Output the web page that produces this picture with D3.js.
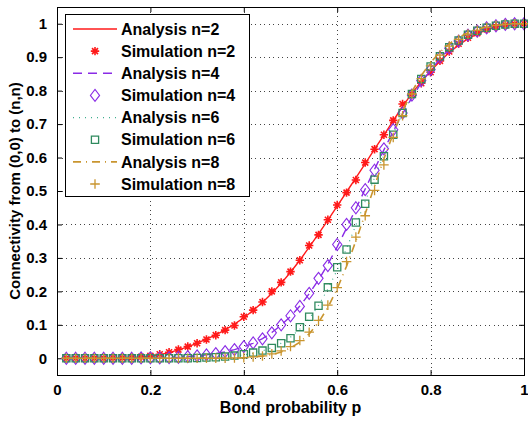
<!DOCTYPE html>
<html>
<head>
<meta charset="utf-8">
<script src="https://cdn.jsdelivr.net/npm/d3@7"></script>
<style>
  html, body { margin: 0; padding: 0; background: #fff; }
  svg { display: block; }
  text { font-family: "Liberation Sans", Arial, Helvetica, sans-serif; font-weight: bold; }
</style>
</head>
<body>
<svg id="chart" width="528" height="422"></svg>
<script>
// Bond probabilities at which connectivity was evaluated
const bondP = [0.02,0.04,0.06,0.08,0.10,0.12,0.14,0.16,0.18,0.20,
               0.22,0.24,0.26,0.28,0.30,0.32,0.34,0.36,0.38,0.40,
               0.42,0.44,0.46,0.48,0.50,0.52,0.54,0.56,0.58,0.60,
               0.62,0.64,0.66,0.68,0.70,0.72,0.74,0.76,0.78,0.80,
               0.82,0.84,0.86,0.88,0.90,0.92,0.94,0.96,0.98,1.00];

// Analytical connectivity, n = 2, 4, 6, 8
const anaN2 = [0,0,0,0,0,0.001,0.001,0.002,0.004,0.007,
               0.011,0.017,0.025,0.034,0.045,0.057,0.070,0.085,0.102,0.121,
               0.143,0.167,0.194,0.224,0.257,0.293,0.332,0.372,0.413,0.455,
               0.497,0.539,0.582,0.625,0.667,0.710,0.753,0.792,0.827,0.859,
               0.888,0.914,0.936,0.955,0.970,0.982,0.990,0.996,0.999,1];
const anaN4 = [0,0,0,0,0,0,0,0,0,0.001,
               0.001,0.002,0.003,0.005,0.007,0.010,0.014,0.019,0.026,0.034,
               0.045,0.059,0.077,0.099,0.125,0.156,0.193,0.234,0.281,0.333,
               0.389,0.447,0.506,0.565,0.623,0.678,0.731,0.779,0.823,0.861,
               0.895,0.924,0.947,0.965,0.978,0.988,0.994,0.998,1,1];
const anaN6 = [0,0,0,0,0,0,0,0,0,0,
               0,0,0,0,0.001,0.002,0.003,0.004,0.007,0.010,
               0.015,0.022,0.032,0.045,0.063,0.087,0.118,0.158,0.207,0.264,
               0.328,0.398,0.469,0.540,0.608,0.672,0.731,0.783,0.829,0.868,
               0.901,0.929,0.951,0.968,0.980,0.989,0.995,0.998,1,1];
const anaN8 = [0,0,0,0,0,0,0,0,0,0,
               0,0,0,0,0,0,0,0.001,0.001,0.002,
               0.004,0.006,0.011,0.019,0.031,0.048,0.073,0.107,0.152,0.208,
               0.275,0.351,0.432,0.515,0.596,0.671,0.739,0.797,0.845,0.884,
               0.915,0.940,0.959,0.973,0.983,0.990,0.995,0.998,1,1];

// Simulated connectivity, n = 2, 4, 6, 8
const simN2 = [0,0,0,0,0,0.001,0.001,0.002,0.004,0.007,
               0.012,0.018,0.026,0.035,0.045,0.056,0.069,0.084,0.098,0.124,
               0.144,0.168,0.200,0.227,0.259,0.293,0.337,0.369,0.414,0.458,
               0.495,0.533,0.585,0.625,0.668,0.711,0.760,0.790,0.822,0.855,
               0.889,0.917,0.940,0.958,0.972,0.983,0.991,0.996,0.999,1];
const simN4 = [0,0,0,0,0,0,0,0,0.001,0.001,
               0.001,0.002,0.003,0.005,0.007,0.010,0.014,0.020,0.026,0.035,
               0.046,0.058,0.076,0.100,0.127,0.155,0.194,0.239,0.277,0.340,
               0.400,0.450,0.504,0.562,0.626,0.683,0.733,0.787,0.830,0.863,
               0.900,0.927,0.948,0.966,0.978,0.988,0.994,0.998,1,1];
const simN6 = [0,0,0,0,0,0,0,0,0,0,
               0,0,0,0,0.001,0.002,0.003,0.005,0.008,0.012,
               0.017,0.023,0.031,0.045,0.060,0.093,0.124,0.157,0.212,0.272,
               0.325,0.406,0.462,0.534,0.604,0.668,0.733,0.790,0.835,0.872,
               0.903,0.930,0.950,0.967,0.979,0.988,0.994,0.998,1,1];
const simN8 = [0,0,0,0,0,0,0,0,0,0,
               0,0,0,0,0,0,0,0,0.001,0.002,
               0.004,0.007,0.013,0.022,0.035,0.053,0.078,0.113,0.159,0.211,
               0.289,0.362,0.426,0.502,0.578,0.660,0.725,0.790,0.836,0.874,
               0.906,0.933,0.953,0.969,0.980,0.989,0.995,0.998,1,1];

// Axis ticks
const xTicks = [0, 0.2, 0.4, 0.6, 0.8, 1];
const yTicks = [0, 0.1, 0.2, 0.3, 0.4, 0.5, 0.6, 0.7, 0.8, 0.9, 1];
const xTickLabels = ["0", "0.2", "0.4", "0.6", "0.8", "1"];
const yTickLabels = ["0", "0.1", "0.2", "0.3", "0.4", "0.5", "0.6", "0.7", "0.8", "0.9", "1"];

const legendLabels = ["Analysis n=2", "Simulation n=2", "Analysis n=4", "Simulation n=4",
                      "Analysis n=6", "Simulation n=6", "Analysis n=8", "Simulation n=8"];

// Styling for each series
const C_RED = "#ff1a1a", C_PUR = "#8a2be6", C_TEAL = "#3fae8e", C_GRN = "#2f8a5e", C_GOLD = "#c9952f";

const svg = d3.select("#chart");
const plot = { left: 57, right: 524, top: 7, bottom: 375 };

const x = d3.scaleLinear().domain([0, 1]).range([plot.left, plot.right]);
const y = d3.scaleLinear().domain([-0.05, 1.05]).range([plot.bottom, plot.top]);

// Plot background
svg.append("rect").attr("x", plot.left).attr("y", plot.top)
  .attr("width", plot.right - plot.left).attr("height", plot.bottom - plot.top)
  .attr("fill", "#fff");

// Dotted grid
const grid = svg.append("g").attr("stroke", "#444").attr("stroke-width", 1)
  .attr("stroke-dasharray", "1,3.5").attr("shape-rendering", "crispEdges");
xTicks.slice(1, -1).forEach(t => {
  grid.append("line").attr("x1", Math.round(x(t)) + 0.5).attr("x2", Math.round(x(t)) + 0.5)
    .attr("y1", plot.top).attr("y2", plot.bottom);
});
yTicks.forEach(t => {
  grid.append("line").attr("y1", Math.round(y(t)) + 0.5).attr("y2", Math.round(y(t)) + 0.5)
    .attr("x1", plot.left).attr("x2", plot.right);
});

// Axes with inward ticks on all four sides
const tickLen = 5;
const xAxisB = d3.axisBottom(x).tickValues(xTicks).tickSize(-tickLen).tickPadding(9)
  .tickFormat((d, i) => xTickLabels[i]);
const xAxisT = d3.axisTop(x).tickValues(xTicks).tickSize(-tickLen).tickFormat("");
const yAxisL = d3.axisLeft(y).tickValues(yTicks).tickSize(-tickLen).tickPadding(10)
  .tickFormat((d, i) => yTickLabels[i]);
const yAxisR = d3.axisRight(y).tickValues(yTicks).tickSize(-tickLen).tickFormat("");

function styleAxis(g) {
  g.select(".domain").remove();
  g.selectAll(".tick line").attr("stroke", "#000");
  g.selectAll(".tick text").attr("fill", "#000").attr("font-size", 15)
    .attr("font-family", "Liberation Sans, Arial, sans-serif").attr("font-weight", "bold");
}
svg.append("g").attr("transform", `translate(0,${plot.bottom})`).call(xAxisB).call(styleAxis);
svg.append("g").attr("transform", `translate(0,${plot.top})`).call(xAxisT).call(styleAxis);
svg.append("g").attr("transform", `translate(${plot.left},0)`).call(yAxisL).call(styleAxis);
svg.append("g").attr("transform", `translate(${plot.right},0)`).call(yAxisR).call(styleAxis);

// Series: analysis line followed by its simulation markers
const series = [
  { ana: anaN2, sim: simN2, lineColor: C_RED, dash: null, lw: 1.4, mark: "star", markColor: C_RED },
  { ana: anaN4, sim: simN4, lineColor: C_PUR, dash: "9,6", lw: 1.4, mark: "diamond", markColor: C_PUR },
  { ana: anaN6, sim: simN6, lineColor: C_TEAL, dash: "1,5", lw: 1.2, mark: "square", markColor: C_GRN },
  { ana: anaN8, sim: simN8, lineColor: C_GOLD, dash: "8,5,1,5", lw: 1.6, mark: "plus", markColor: C_GOLD }
];

const markerPath = {
  star: "M-4.2,0H4.2M0,-4.2V4.2M-3,-3L3,3M-3,3L3,-3",
  diamond: "M0,-6L4.6,0L0,6L-4.6,0Z",
  square: "M-3.6,-3.6H3.6V3.6H-3.6Z",
  plus: "M-4.8,0H4.8M0,-4.8V4.8"
};
const markerWidth = { star: 1.6, diamond: 1.1, square: 1.3, plus: 1.3 };

const lineGen = d3.line().x((d, i) => x(bondP[i])).y(d => y(d));
const dataLayer = svg.append("g");

series.forEach(s => {
  dataLayer.append("path").datum(s.ana)
    .attr("d", lineGen).attr("fill", "none")
    .attr("stroke", s.lineColor).attr("stroke-width", s.lw)
    .attr("stroke-dasharray", s.dash);
  dataLayer.append("g").selectAll("path").data(s.sim).join("path")
    .attr("transform", (d, i) => `translate(${x(bondP[i])},${y(d)})`)
    .attr("d", markerPath[s.mark]).attr("fill", "none")
    .attr("stroke", s.markColor).attr("stroke-width", markerWidth[s.mark]);
});

// Frame
svg.append("rect").attr("x", plot.left + 0.5).attr("y", plot.top + 0.5)
  .attr("width", plot.right - plot.left).attr("height", plot.bottom - plot.top)
  .attr("fill", "none").attr("stroke", "#000").attr("stroke-width", 1);

// Axis titles
svg.append("text").attr("x", (plot.left + plot.right) / 2).attr("y", 413)
  .attr("text-anchor", "middle").attr("font-size", 16).text("Bond probability p");
svg.append("text")
  .attr("transform", `translate(20,${(plot.top + plot.bottom) / 2}) rotate(-90)`)
  .attr("text-anchor", "middle").attr("font-size", 15)
  .text("Connectivity from (0,0) to (n,n)");

// Legend
const legend = svg.append("g");
legend.append("rect").attr("x", 65.5).attr("y", 14.5).attr("width", 184).attr("height", 182)
  .attr("fill", "#fff").attr("stroke", "#000").attr("stroke-width", 1);
const rowY = d3.scaleLinear().domain([0, 7]).range([29, 184]);
legendLabels.forEach((label, i) => {
  const s = series[Math.floor(i / 2)];
  const cy = rowY(i);
  if (i % 2 === 0) {
    legend.append("line").attr("x1", 73).attr("x2", 117).attr("y1", cy).attr("y2", cy)
      .attr("stroke", s.lineColor).attr("stroke-width", s.lw)
      .attr("stroke-dasharray", s.dash);
  } else {
    legend.append("path").attr("transform", `translate(95,${cy})`)
      .attr("d", markerPath[s.mark]).attr("fill", "none")
      .attr("stroke", s.markColor).attr("stroke-width", markerWidth[s.mark]);
  }
  legend.append("text").attr("x", 121).attr("y", cy).attr("dy", "0.36em")
    .attr("font-size", 16).text(label);
});
</script>
</body>
</html>
